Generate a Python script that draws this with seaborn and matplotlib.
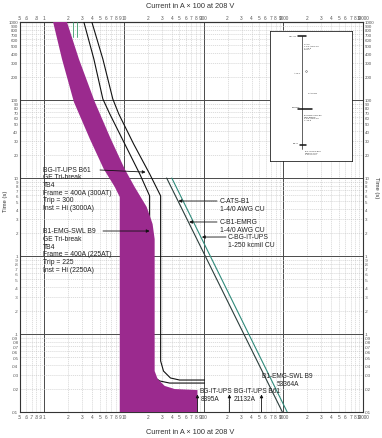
import math
import matplotlib
matplotlib.use("Agg")
import matplotlib.pyplot as plt
import seaborn as sns
from matplotlib.ticker import FixedLocator, FuncFormatter, NullLocator

sns.set_style("white")
plt.rcParams['font.family'] = ['Liberation Sans', 'DejaVu Sans']

# ---------------- data: current in A x 100 at 208 V, time in seconds ----------------
# B1-EMG-SWL B9 tolerance band (magenta)
b9_left_i = [1.30, 1.68, 2.37, 3.76, 5.62, 7.72, 8.91, 8.91]
b9_left_t = [1000, 335, 94.3, 31.6, 13.0, 7.67, 5.71, 0.01]
b9_right_i = [1.94, 2.74, 4.34, 6.88, 10.3, 13.7, 16.3, 19.4, 23.0, 24.4, 24.4, 26.6, 32.6, 43.4, 84.0, 84.0]
b9_right_t = [1000, 335, 94.3, 31.6, 13.0, 7.67, 5.71, 4.25, 2.57, 1.65, 0.0335, 0.0265, 0.0216, 0.0197, 0.0191, 0.01]

# BG-IT-UPS B61 band (two black curves)
b61_min_i = [3.16, 4.22, 5.47, 6.68, 10.3, 15.85, 21.1, 21.1, 23.0, 28.2, 37.6, 103]
b61_min_t = [1000, 335, 103, 66.2, 27.3, 11.3, 5.9, 0.0378, 0.029, 0.025, 0.0235, 0.0235]
b61_max_i = [3.98, 5.47, 7.29, 8.66, 13.3, 21.1, 29.0, 29.0, 31.5, 38.5, 50.1, 103]
b61_max_t = [1000, 335, 103, 66.2, 27.3, 11.3, 5.9, 0.0451, 0.0335, 0.0273, 0.0257, 0.0257]

# cable damage curves
cable_4_0_i = [34.5, 975]      # C-ATS-B1 and C-B1-EMRG, 1-4/0 AWG CU
cable_4_0_t = [10, 0.01]
cable_250_i = [40.0, 1120]     # C-BG-IT-UPS, 1-250 kcmil CU
cable_250_t = [10, 0.01]

# short green marks at the top
top_marks_i = [2.30, 2.58]
top_marks_t = [1000, 650]

# available fault currents (A x 100)
fault_i = [83.95, 211.32, 533.64]
fault_labels = [("BG-IT-UPS", "8395A"), ("BG-IT-UPS B61", "21132A"), ("B1-EMG-SWL B9", "53364A")]

b61_text = ["BG-IT-UPS B61", "GE Tri-break", "TB4", "Frame = 400A (300AT)", "Trip = 300", "Inst = Hi (3000A)"]
b9_text = ["B1-EMG-SWL B9", "GE Tri-break", "TB4", "Frame = 400A (225AT)", "Trip = 225", "Inst = Hi (2250A)"]
cable_text = [("C-ATS-B1", "1-4/0 AWG CU"), ("C-B1-EMRG", "1-4/0 AWG CU"), ("C-BG-IT-UPS", "1-250 kcmil CU")]
cable_tips = [(48.4, 5.07), (66.0, 2.73), (95.4, 1.75)]

# ticks
x_major = [1, 10, 100, 1000, 10000]
x_minor = [round(m * d, 6) for d in [0.1, 1, 10, 100, 1000] for m in range(2, 10) if m * d >= 0.5]
x_top = [v for v in sorted(x_major + x_minor) if v not in (0.7, 0.9)]
y_major = [0.01, 0.1, 1, 10, 100, 1000]
y_minor = [round(m * d, 6) for d in [0.01, 0.1, 1, 10, 100] for m in range(2, 10)]

W, H = 382, 439


def lab(v, pos=None):
    s = f"{v:g}"
    if s.startswith("0."):
        s = s[1:]
    return s


def xlab(v, pos=None):
    if v <= 10 or any(abs(v - m) < 1e-6 for m in x_major):
        return lab(v)
    return str(int(round(v / 10 ** math.floor(math.log10(v) + 1e-9))))


def F(px, py):
    return (px / W, 1 - py / H)


fig = plt.figure(figsize=(W / 100, H / 100), dpi=100)
ax = fig.add_axes([20 / W, 26 / H, 343 / W, 390 / H])
ax.set_xscale('log')
ax.set_yscale('log')
ax.set_xlim(0.5, 10000)
ax.set_ylim(0.01, 1000)

ax.xaxis.set_major_locator(FixedLocator(x_major))
ax.xaxis.set_minor_locator(FixedLocator(x_minor))
ax.yaxis.set_major_locator(FixedLocator(y_major))
ax.yaxis.set_minor_locator(FixedLocator(y_minor))
ax.xaxis.set_major_formatter(FuncFormatter(xlab))
ax.xaxis.set_minor_formatter(FuncFormatter(xlab))
ax.yaxis.set_major_formatter(FuncFormatter(lab))
ax.yaxis.set_minor_formatter(FuncFormatter(lab))
ax.set_axisbelow(True)
ax.grid(which='major', color='#4a4a4a', lw=0.7)
ax.grid(which='minor', color='#c4c4c4', lw=0.4, ls=(0, (2, 1.5)))
ax.tick_params(axis='x', which='both', length=0, pad=1.5, labelsize=3.4,
               labelcolor='#555555', labelbottom=True, labeltop=False)
ax.tick_params(axis='y', which='both', length=0, pad=1.3, labelsize=3.2,
               labelcolor='#555555', labelleft=True, labelright=True)
for s in ax.spines.values():
    s.set_color('#333333')
    s.set_linewidth(0.8)

sec = ax.secondary_xaxis('top')
sec.set_xticks(x_top, labels=[xlab(v) for v in x_top])
sec.xaxis.set_minor_locator(NullLocator())
sec.tick_params(length=0, pad=1.5, labelsize=3.4, labelcolor='#555555')
sec.spines['top'].set_color('#333333')
sec.spines['top'].set_linewidth(0.8)

# curves
sns.lineplot(x=b61_min_i, y=b61_min_t, sort=False, estimator=None, color='#111111', lw=0.8, ax=ax, zorder=3)
sns.lineplot(x=b61_max_i, y=b61_max_t, sort=False, estimator=None, color='#111111', lw=0.8, ax=ax, zorder=3)
ax.fill(b9_left_i + b9_right_i[::-1], b9_left_t + b9_right_t[::-1], color='#9b2a8e', lw=0, zorder=4)
sns.lineplot(x=cable_4_0_i, y=cable_4_0_t, sort=False, estimator=None, color='#2a3d3b', lw=0.8, ax=ax, zorder=3)
sns.lineplot(x=cable_250_i, y=cable_250_t, sort=False, estimator=None, color='#2f8a7a', lw=0.8, ax=ax, zorder=3)
for xi in top_marks_i:
    sns.lineplot(x=[xi, xi], y=top_marks_t, sort=False, estimator=None, color='#3a9a6a', lw=0.6, ax=ax, zorder=3)

arrow_kw = dict(arrowstyle='-|>', color='#111111', lw=0.6, mutation_scale=4.5, shrinkA=0, shrinkB=0)

# fault current arrows
for xi in fault_i:
    ax.annotate('', xy=(xi, 0.0168), xytext=(xi, 0.01), arrowprops=arrow_kw, zorder=6)
fault_pos = [((199, 392), (201, 400)), ((234, 392), (234, 400)), ((262, 377), (277, 385))]
for (l1, l2), (p1, p2) in zip(fault_labels, fault_pos):
    fig.text(*F(*p1), l1, fontsize=4.7, color='#222222', va='center', ha='left')
    fig.text(*F(*p2), l2, fontsize=4.7, color='#222222', va='center', ha='left')

# breaker labels
for k, line in enumerate(b61_text):
    fig.text(*F(43, 170 + k * 7.7), line, fontsize=4.9, color='#222222', va='center', ha='left')
for k, line in enumerate(b9_text):
    fig.text(*F(43, 232 + k * 7.6), line, fontsize=4.9, color='#222222', va='center', ha='left')
ax.annotate('', xy=(18.8, 11.9), xytext=F(100, 171), textcoords='figure fraction', arrowprops=arrow_kw, zorder=6)
ax.annotate('', xy=(21.1, 2.09), xytext=F(103, 232), textcoords='figure fraction', arrowprops=arrow_kw, zorder=6)

# cable labels
cable_pos = [(220, 202, 217), (220, 223, 217), (228, 238, 226)]
for (l1, l2), (px, py, tx), tip in zip(cable_text, cable_pos, cable_tips):
    fig.text(*F(px, py), l1, fontsize=4.9, color='#222222', va='center', ha='left')
    fig.text(*F(px, py + 7.5), l2, fontsize=4.9, color='#222222', va='center', ha='left')
    ax.annotate('', xy=tip, xytext=F(tx, py), textcoords='figure fraction', arrowprops=arrow_kw, zorder=6)

# axis titles
fig.text(*F(190, 6), 'Current in A × 100 at 208 V', fontsize=5.3, color='#333333', ha='center', va='center')
fig.text(*F(190, 433), 'Current in A × 100 at 208 V', fontsize=5.3, color='#333333', ha='center', va='center')
fig.text(*F(5, 201), 'Time (s)', fontsize=4.2, color='#333333', ha='center', va='center', rotation=90)
fig.text(*F(376, 188), 'Time (s)', fontsize=4.2, color='#333333', ha='center', va='center', rotation=270)

# inset one-line diagram
ins = fig.add_axes([270 / W, 1 - 162 / H, 82 / W, 130 / H])
ins.set_facecolor('white')
ins.set_xlim(270, 352)
ins.set_ylim(162, 32)
ins.set_xticks([])
ins.set_yticks([])
for s in ins.spines.values():
    s.set_color('#222222')
    s.set_linewidth(0.6)
ins.plot([302, 302], [37, 150], color='#222222', lw=0.5)
for (x0, x1, yy) in [(298, 306, 37), (298, 312, 110), (300, 306, 146)]:
    ins.plot([x0, x1], [yy, yy], color='#111111', lw=1.1)
ins.plot([306], [72], marker='o', ms=1.2, mfc='white', mec='#333333', mew=0.3)
tiny = dict(fontsize=1.6, color='#333333', va='center')
ins.text(297, 36, 'UTILITY', ha='right', **tiny)
ins.text(304, 47, 'C-ATS\n1-4/0 AWG CU\nL=50 ft\n208 V', ha='left', linespacing=1.3, **tiny)
ins.text(300, 73, 'ATS-1', ha='right', **tiny)
ins.text(308, 93, 'C-ATS-B1', ha='left', **tiny)
ins.text(300, 107, 'B1-EMG', ha='right', **tiny)
ins.text(304, 118, 'B1-EMG-SWL B9\nC-B1-EMRG\n1-4/0 AWG CU\nL=40 ft', ha='left', linespacing=1.3, **tiny)
ins.text(299, 144, 'BG-IT', ha='right', **tiny)
ins.text(305, 153, 'BG-IT-UPS B61\nC-BG-IT-UPS\n1-250 kcmil', ha='left', linespacing=1.3, **tiny)

fig.savefig('out.png', dpi=100)
